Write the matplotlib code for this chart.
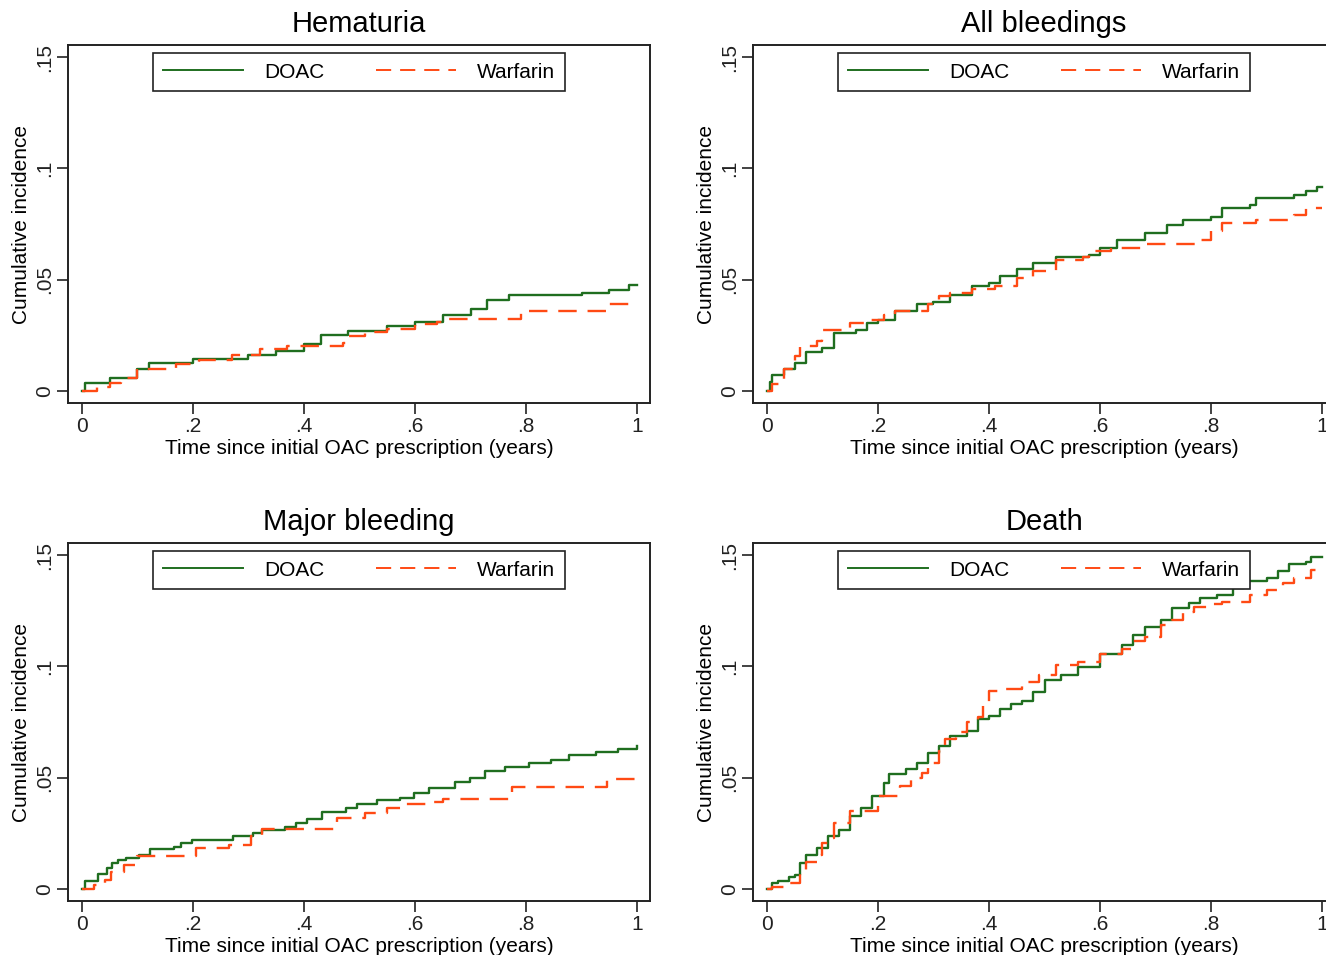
import numpy as np
import matplotlib
matplotlib.use("Agg")
import matplotlib.pyplot as plt

plt.rcParams['font.family'] = ['Liberation Sans', 'DejaVu Sans']

#Panel titles and labels
titles = ["Hematuria", "All bleedings", "Major bleeding", "Death"]
series_names = ["DOAC", "Warfarin"]
x_ticks = [0, 0.2, 0.4, 0.6, 0.8, 1.0]
x_tick_labels = ["0", ".2", ".4", ".6", ".8", "1"]
y_ticks = [0, 0.05, 0.1, 0.15]
y_tick_labels = ["0", ".05", ".1", ".15"]
x_label = "Time since initial OAC prescription (years)"
y_label = "Cumulative incidence"

#Step curves (time in years, cumulative incidence)
hem_doac_t = [0, 0.005, 0.05, 0.1, 0.12, 0.2, 0.3, 0.35, 0.4, 0.43, 0.48, 0.55, 0.6, 0.65, 0.7, 0.73, 0.77, 0.85, 0.9, 0.95, 0.985, 1.0]
hem_doac_y = [0, 0.0037, 0.006, 0.0097, 0.0124, 0.0142, 0.016, 0.018, 0.021, 0.025, 0.027, 0.029, 0.031, 0.034, 0.037, 0.041, 0.043, 0.043, 0.044, 0.0455, 0.0475, 0.0475]
hem_warf_t = [0, 0.028, 0.05, 0.07, 0.1, 0.17, 0.21, 0.27, 0.32, 0.37, 0.47, 0.48, 0.51, 0.55, 0.6, 0.64, 0.66, 0.79, 0.95, 1.0]
hem_warf_y = [0, 0.002, 0.0037, 0.006, 0.0097, 0.012, 0.014, 0.016, 0.0187, 0.020, 0.0216, 0.0246, 0.0266, 0.028, 0.030, 0.031, 0.0324, 0.036, 0.039, 0.039]

all_doac_t = [0, 0.005, 0.01, 0.03, 0.05, 0.07, 0.1, 0.12, 0.16, 0.18, 0.2, 0.23, 0.27, 0.3, 0.33, 0.37, 0.4, 0.42, 0.45, 0.48, 0.52, 0.58, 0.6, 0.63, 0.68, 0.72, 0.75, 0.8, 0.82, 0.87, 0.88, 0.95, 0.97, 0.99, 1.0]
all_doac_y = [0, 0.004, 0.007, 0.0097, 0.0127, 0.0176, 0.0194, 0.026, 0.0276, 0.0306, 0.032, 0.036, 0.039, 0.040, 0.043, 0.047, 0.0485, 0.0515, 0.055, 0.0575, 0.060, 0.061, 0.064, 0.068, 0.071, 0.0746, 0.077, 0.078, 0.082, 0.0836, 0.0866, 0.088, 0.090, 0.0915, 0.0915]
all_warf_t = [0, 0.01, 0.03, 0.05, 0.06, 0.09, 0.1, 0.15, 0.18, 0.21, 0.23, 0.29, 0.31, 0.33, 0.37, 0.41, 0.45, 0.48, 0.52, 0.57, 0.58, 0.62, 0.68, 0.78, 0.8, 0.82, 0.88, 0.95, 0.97, 1.0]
all_warf_y = [0, 0.003, 0.0097, 0.0157, 0.020, 0.0224, 0.0276, 0.0306, 0.032, 0.034, 0.036, 0.039, 0.0425, 0.044, 0.046, 0.047, 0.0507, 0.054, 0.059, 0.060, 0.063, 0.064, 0.066, 0.068, 0.072, 0.0754, 0.077, 0.079, 0.082, 0.082]

maj_doac_t = [0, 0.005, 0.029, 0.045, 0.055, 0.065, 0.079, 0.102, 0.122, 0.165, 0.179, 0.199, 0.232, 0.272, 0.309, 0.325, 0.365, 0.385, 0.405, 0.432, 0.475, 0.495, 0.532, 0.572, 0.598, 0.625, 0.672, 0.698, 0.725, 0.762, 0.805, 0.845, 0.878, 0.925, 0.965, 1.0]
maj_doac_y = [0, 0.0038, 0.0068, 0.0093, 0.0116, 0.0128, 0.014, 0.0153, 0.018, 0.019, 0.0206, 0.022, 0.0222, 0.0239, 0.025, 0.0263, 0.028, 0.0296, 0.0314, 0.0348, 0.0363, 0.038, 0.0398, 0.041, 0.043, 0.0453, 0.048, 0.050, 0.0529, 0.055, 0.0566, 0.058, 0.060, 0.0614, 0.063, 0.064]
maj_warf_t = [0, 0.022, 0.042, 0.052, 0.075, 0.099, 0.205, 0.265, 0.305, 0.325, 0.46, 0.51, 0.55, 0.58, 0.625, 0.65, 0.775, 0.945, 1.0]
maj_warf_y = [0, 0.0018, 0.004, 0.0078, 0.0108, 0.0146, 0.0183, 0.0198, 0.0236, 0.027, 0.032, 0.034, 0.0363, 0.038, 0.039, 0.0405, 0.0458, 0.0494, 0.0494]

dth_doac_t = [0, 0.01, 0.02, 0.04, 0.05, 0.06, 0.07, 0.09, 0.11, 0.13, 0.15, 0.17, 0.19, 0.21, 0.22, 0.25, 0.27, 0.29, 0.31, 0.33, 0.36, 0.38, 0.4, 0.42, 0.44, 0.46, 0.48, 0.5, 0.53, 0.56, 0.6, 0.64, 0.66, 0.68, 0.71, 0.73, 0.76, 0.78, 0.81, 0.84, 0.86, 0.9, 0.92, 0.94, 0.97, 0.98, 1.0]
dth_doac_y = [0, 0.0026, 0.0036, 0.0056, 0.0063, 0.0116, 0.0154, 0.0184, 0.0236, 0.0267, 0.0327, 0.0364, 0.0417, 0.0477, 0.0515, 0.0538, 0.0568, 0.0613, 0.0643, 0.0688, 0.0711, 0.0764, 0.0779, 0.0809, 0.0831, 0.0846, 0.0884, 0.0937, 0.096, 0.0997, 0.1057, 0.1095, 0.114, 0.1178, 0.121, 0.126, 0.1283, 0.1306, 0.132, 0.135, 0.1384, 0.1396, 0.1426, 0.146, 0.1467, 0.149, 0.149]
dth_warf_t = [0, 0.01, 0.03, 0.06, 0.07, 0.09, 0.1, 0.11, 0.12, 0.15, 0.2, 0.24, 0.26, 0.28, 0.29, 0.31, 0.32, 0.34, 0.36, 0.38, 0.39, 0.4, 0.43, 0.46, 0.49, 0.52, 0.56, 0.6, 0.64, 0.66, 0.68, 0.71, 0.73, 0.75, 0.77, 0.8, 0.82, 0.87, 0.9, 0.93, 0.95, 0.98, 1.0]
dth_warf_y = [0, 0.001, 0.0026, 0.0086, 0.0123, 0.0154, 0.0206, 0.0229, 0.0297, 0.035, 0.0417, 0.0462, 0.050, 0.0523, 0.0568, 0.062, 0.0673, 0.0703, 0.0748, 0.0771, 0.0839, 0.0887, 0.0899, 0.0929, 0.0962, 0.1005, 0.102, 0.1057, 0.108, 0.1113, 0.1133, 0.1185, 0.1208, 0.1245, 0.1268, 0.1279, 0.129, 0.132, 0.1343, 0.1373, 0.1396, 0.1434, 0.145]

curves = [
    [(hem_doac_t, hem_doac_y), (hem_warf_t, hem_warf_y)],
    [(all_doac_t, all_doac_y), (all_warf_t, all_warf_y)],
    [(maj_doac_t, maj_doac_y), (maj_warf_t, maj_warf_y)],
    [(dth_doac_t, dth_doac_y), (dth_warf_t, dth_warf_y)],
]

green = '#1f6e1f'
orange = '#ff4a14'

fig = plt.figure(figsize=(13.26, 9.55), dpi=100)

#axes boxes in figure fractions (right column runs off the right edge like the source)
W = 1326.0
H = 955.0
boxes = [(68, 45), (753, 45), (68, 543), (753, 543)]
box_w = 582
box_h = 358

for k in range(4):
    left, top = boxes[k]
    ax = fig.add_axes([left / W, (H - top - box_h) / H, box_w / W, box_h / H])
    (t1, y1), (t2, y2) = curves[k]
    ax.step(t1, y1, where='post', color=green, lw=1.7, label=series_names[0])
    ax.step(t2, y2, where='post', color=orange, lw=1.7, dashes=(7.8, 4.6), label=series_names[1])

    ax.set_xlim(-0.025, 1.023)
    ax.set_ylim(-0.0054, 0.1554)
    ax.set_xticks(x_ticks)
    ax.set_xticklabels(x_tick_labels)
    ax.set_yticks(y_ticks)
    ax.set_yticklabels(y_tick_labels, rotation=90, va='center')
    ax.tick_params(direction='out', length=8, width=1.2, labelsize=15, pad=2, colors='#222222')
    for s in ax.spines.values():
        s.set_linewidth(1.4)
        s.set_color('#222222')
    ax.set_xlabel(x_label, fontsize=15, labelpad=2)
    ax.set_ylabel(y_label, fontsize=15, labelpad=3)
    ax.set_title(titles[k], fontsize=21, pad=9)

    leg = ax.legend(ncol=2, loc='upper center', bbox_to_anchor=(0.5, 1 - 8.0 / box_h),
                    fontsize=15, frameon=True, fancybox=False, edgecolor='#222222',
                    framealpha=1.0, handlelength=3.85, handletextpad=1.0, columnspacing=2.5,
                    borderpad=0.46, borderaxespad=0)
    leg.get_frame().set_linewidth(1.2)
    for line in leg.get_lines():
        line.set_linewidth(1.4)

fig.savefig("out.png", dpi=100)
